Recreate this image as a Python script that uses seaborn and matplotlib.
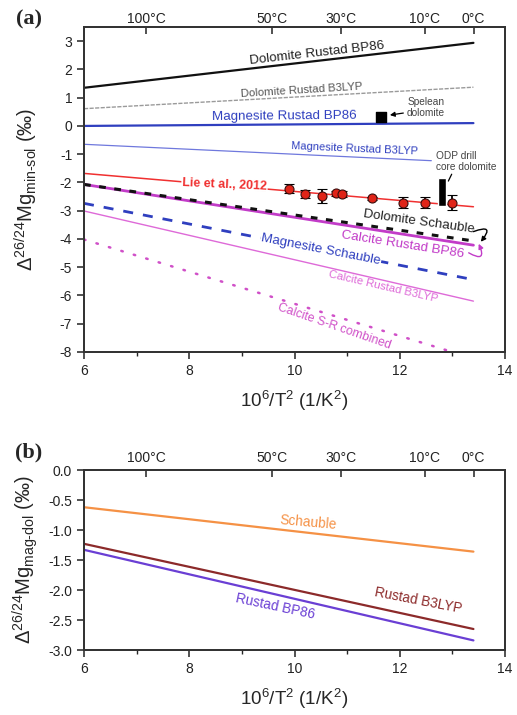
import numpy as np
import pandas as pd
import matplotlib
matplotlib.use("Agg")
import matplotlib.pyplot as plt
import seaborn as sns

# ---------------- data (panel a) ----------------
x_ends = [6.0, 13.4]
dol_rustad_bp86 = [1.35, 2.94]
dol_rustad_b3lyp = [0.61, 1.37]
mag_rustad_bp86 = [0.0, 0.10]
mag_b3lyp_x = [6.0, 12.6]
mag_rustad_b3lyp = [-0.65, -1.23]
lie_2012 = [-1.68, -2.86]
dol_schauble = [-2.07, -4.07]
cal_rustad_bp86 = [-2.07, -4.22]
mag_schauble = [-2.74, -5.44]
cal_rustad_b3lyp = [-3.01, -6.20]
cal_sr_x = [6.0, 13.0]
cal_sr_combined = [-4.02, -8.0]

pts_x = [9.89, 10.20, 10.53, 10.78, 10.90, 11.48, 12.07, 12.48, 13.00]
pts_y = [-2.23, -2.42, -2.48, -2.39, -2.42, -2.56, -2.71, -2.71, -2.71]
pts_err = [0.16, 0.14, 0.25, 0.10, 0.10, 0.06, 0.20, 0.18, 0.27]

spelean_x = [11.65]
spelean_y = [0.33]
odp_x = [12.81]
odp_low = [-2.83]
odp_high = [-1.83]

# ---------------- data (panel b) ----------------
b_schauble = [-0.62, -1.36]
b_rustad_b3lyp = [-1.23, -2.65]
b_rustad_bp86 = [-1.33, -2.84]

temps_c = [100, 50, 30, 10, 0]
temp_labels = ["100°C", "50°C", "30°C", "10°C", "0°C"]

# ---------------- style ----------------
sns.set_style("ticks")
plt.rcParams["font.family"] = ["Liberation Sans", "DejaVu Sans"]
plt.rcParams["mathtext.fontset"] = "custom"
plt.rcParams["mathtext.rm"] = "Liberation Sans"
plt.rcParams["mathtext.it"] = "Liberation Sans:italic"
plt.rcParams["mathtext.bf"] = "Liberation Sans:bold"
plt.rcParams["axes.edgecolor"] = "#333333"
plt.rcParams["axes.linewidth"] = 1.3

BLUE = "#2f3fbf"
MAG = "#c23cc8"
PINK = "#de6ad8"
RED = "#f03030"

fig = plt.figure(figsize=(5.17, 7.15), dpi=100)
axA = fig.add_axes([0.1625, 0.5077, 0.8143, 0.4545])
axB = fig.add_axes([0.1625, 0.0909, 0.8143, 0.2517])


def line(ax, xs, ys, color, lw, ls="-", capstyle="butt"):
    df = pd.DataFrame({"x": xs, "y": ys})
    sns.lineplot(data=df, x="x", y="y", ax=ax, color=color, linewidth=lw,
                 linestyle=ls, legend=False)
    ax.lines[-1].set_dash_capstyle(capstyle)


# panel a lines
line(axA, x_ends, dol_rustad_bp86, "#111111", 1.6)
line(axA, x_ends, dol_rustad_b3lyp, "#9a9a9a", 1.0, (0, (3, 1)))
line(axA, x_ends, mag_rustad_bp86, BLUE, 1.6)
line(axA, mag_b3lyp_x, mag_rustad_b3lyp, "#6f78dd", 0.9)
line(axA, x_ends, lie_2012, RED, 1.1)
line(axA, x_ends, cal_rustad_bp86, MAG, 2.0)
line(axA, x_ends, dol_schauble, "#111111", 2.2, (0, (2.2, 2.8)))
line(axA, x_ends, mag_schauble, BLUE, 2.0, (0, (3.6, 3.6)))
line(axA, x_ends, cal_rustad_b3lyp, PINK, 1.0)
line(axA, cal_sr_x, cal_sr_combined, "#d050c8", 1.8, (0, (0.6, 4.6)), "round")

# data points
axA.errorbar(pts_x, pts_y, yerr=pts_err, fmt="o", ms=6.5, mfc="#e02418",
             mec="#3a0d0d", mew=0.8, ecolor="black", elinewidth=1.3,
             capsize=3.5, capthick=1.3, zorder=5)
axA.bar(odp_x, [h - l for h, l in zip(odp_high, odp_low)], bottom=odp_low,
        width=0.15, color="black", zorder=5)
axA.scatter(spelean_x, spelean_y, marker="s", s=55, color="black", zorder=5)


def lab(ax, x, y, s, color, size, rot, weight="normal", bg=False, ha="center"):
    kw = {}
    if bg:
        kw["bbox"] = dict(facecolor="white", edgecolor="none", pad=0.6)
    ax.text(x, y, s, color=color, fontsize=size, rotation=rot, ha=ha,
            va="center", rotation_mode="anchor", fontweight=weight,
            zorder=6, **kw)


lab(axA, 10.42, 2.57, "Dolomite Rustad BP86", "#222222", 9.6, 6.5)
lab(axA, 10.13, 1.26, "Dolomite Rustad B3LYP", "#555555", 8.2, 3.5)
lab(axA, 9.81, 0.33, "Magnesite Rustad BP86", BLUE, 9.6, 0.5)
lab(axA, 11.14, -0.80, "Magnesite Rustad B3LYP", BLUE, 8.0, -2.5)
lab(axA, 8.67, -2.08, "Lie et al., 2012", RED, 9.0, -2.5, "bold", bg=True)
lab(axA, 12.36, -3.39, "Dolomite Schauble", "#222222", 9.6, -8)
lab(axA, 12.06, -4.21, "Calcite Rustad BP86", MAG, 9.6, -9)
lab(axA, 10.50, -4.38, "Magnesite Schauble", BLUE, 9.6, -11, bg=True)
lab(axA, 11.68, -5.70, "Calcite Rustad B3LYP", PINK, 8.2, -13)
lab(axA, 10.76, -7.11, "Calcite S-R combined", "#d050c8", 8.8, -19)

axA.text(12.50, 0.66, "Spelean\ndolomite", color="#444444", fontsize=7.3,
         ha="center", va="center", linespacing=1.1)
axA.annotate("", xy=(11.76, 0.37), xytext=(12.12, 0.47),
             arrowprops=dict(arrowstyle="-|>", color="black", lw=0.9,
                             mutation_scale=7))
axA.text(12.69, -1.26, "ODP drill\ncore dolomite", color="#444444",
         fontsize=7.3, ha="left", va="center", linespacing=1.1)
axA.annotate("", xy=(12.90, -2.04), xytext=(13.01, -1.62),
             arrowprops=dict(arrowstyle="-", color="black", lw=0.9))
axA.annotate("", xy=(13.54, -4.10), xytext=(13.40, -3.74),
             arrowprops=dict(arrowstyle="-|>", color="black", lw=1.0,
                             mutation_scale=7, shrinkA=0, shrinkB=0,
                             connectionstyle="arc3,rad=-1.8"))
axA.annotate("", xy=(13.50, -4.17), xytext=(13.31, -4.49),
             arrowprops=dict(arrowstyle="-|>", color=MAG, lw=1.0,
                             mutation_scale=7, shrinkA=0, shrinkB=0,
                             connectionstyle="arc3,rad=1.5"))

# panel b lines
line(axB, x_ends, b_schauble, "#f59145", 1.6)
line(axB, x_ends, b_rustad_b3lyp, "#8c2a2a", 1.6)
line(axB, x_ends, b_rustad_bp86, "#6a3fd4", 1.6)
lab(axB, 10.27, -0.88, "Schauble", "#f59145", 9.8, -5)
lab(axB, 12.36, -2.18, "Rustad B3LYP", "#8c2a2a", 9.8, -11)
lab(axB, 9.64, -2.28, "Rustad BP86", "#6a3fd4", 9.8, -12)

# axes formatting
xlabel = "10$^{6}$/T$^{2}$ (1/K$^{2}$)"
for ax, ylim, yticks, fmt, ylab, toppad in [
    (axA, (-8, 3.5), np.arange(-8, 4, 1), "{:.0f}",
     "Δ$^{26/24}$Mg$_{\\mathrm{min‐sol}}$ (‰)", 0.5),
    (axB, (-3.0, 0.0), np.arange(-3.0, 0.01, 0.5), "{:.1f}",
     "Δ$^{26/24}$Mg$_{\\mathrm{mag‐dol}}$ (‰)", 3.5),
]:
    ax.set_xlim(6, 14)
    ax.set_ylim(*ylim)
    ax.set_xticks([6, 8, 10, 12, 14])
    ax.set_xticks([7, 9, 11, 13], minor=True)
    ax.set_yticks(yticks)
    ax.set_yticklabels([fmt.format(v) for v in yticks])
    ax.tick_params(axis="both", which="major", direction="out", length=5,
                   width=1.1, labelsize=10, colors="#222222", pad=3.5)
    ax.tick_params(axis="x", which="minor", direction="out", length=3,
                   width=1.0)
    ax.set_xlabel(xlabel, fontsize=13.5, labelpad=8)
    ax.set_ylabel(ylab, fontsize=14.5)
    ax.yaxis.set_label_coords(-0.105, 0.5)
    for sp in ax.spines.values():
        sp.set_visible(True)
    top = ax.twiny()
    top.set_xlim(6, 14)
    top.set_xticks([1e6 / (t + 273.15) ** 2 for t in temps_c])
    top.set_xticklabels(temp_labels)
    top.tick_params(axis="x", direction="in", length=5, width=1.1,
                    labelsize=10, pad=toppad, colors="#222222")
    for sp in top.spines.values():
        sp.set_visible(True)

fig.text(29 / 517, 1 - 19 / 715, "(a)", family="Liberation Serif",
         fontweight="bold", fontsize=16, ha="center", va="center")
fig.text(29 / 517, 1 - 452 / 715, "(b)", family="Liberation Serif",
         fontweight="bold", fontsize=16, ha="center", va="center")

fig.savefig("out.png", dpi=100)
